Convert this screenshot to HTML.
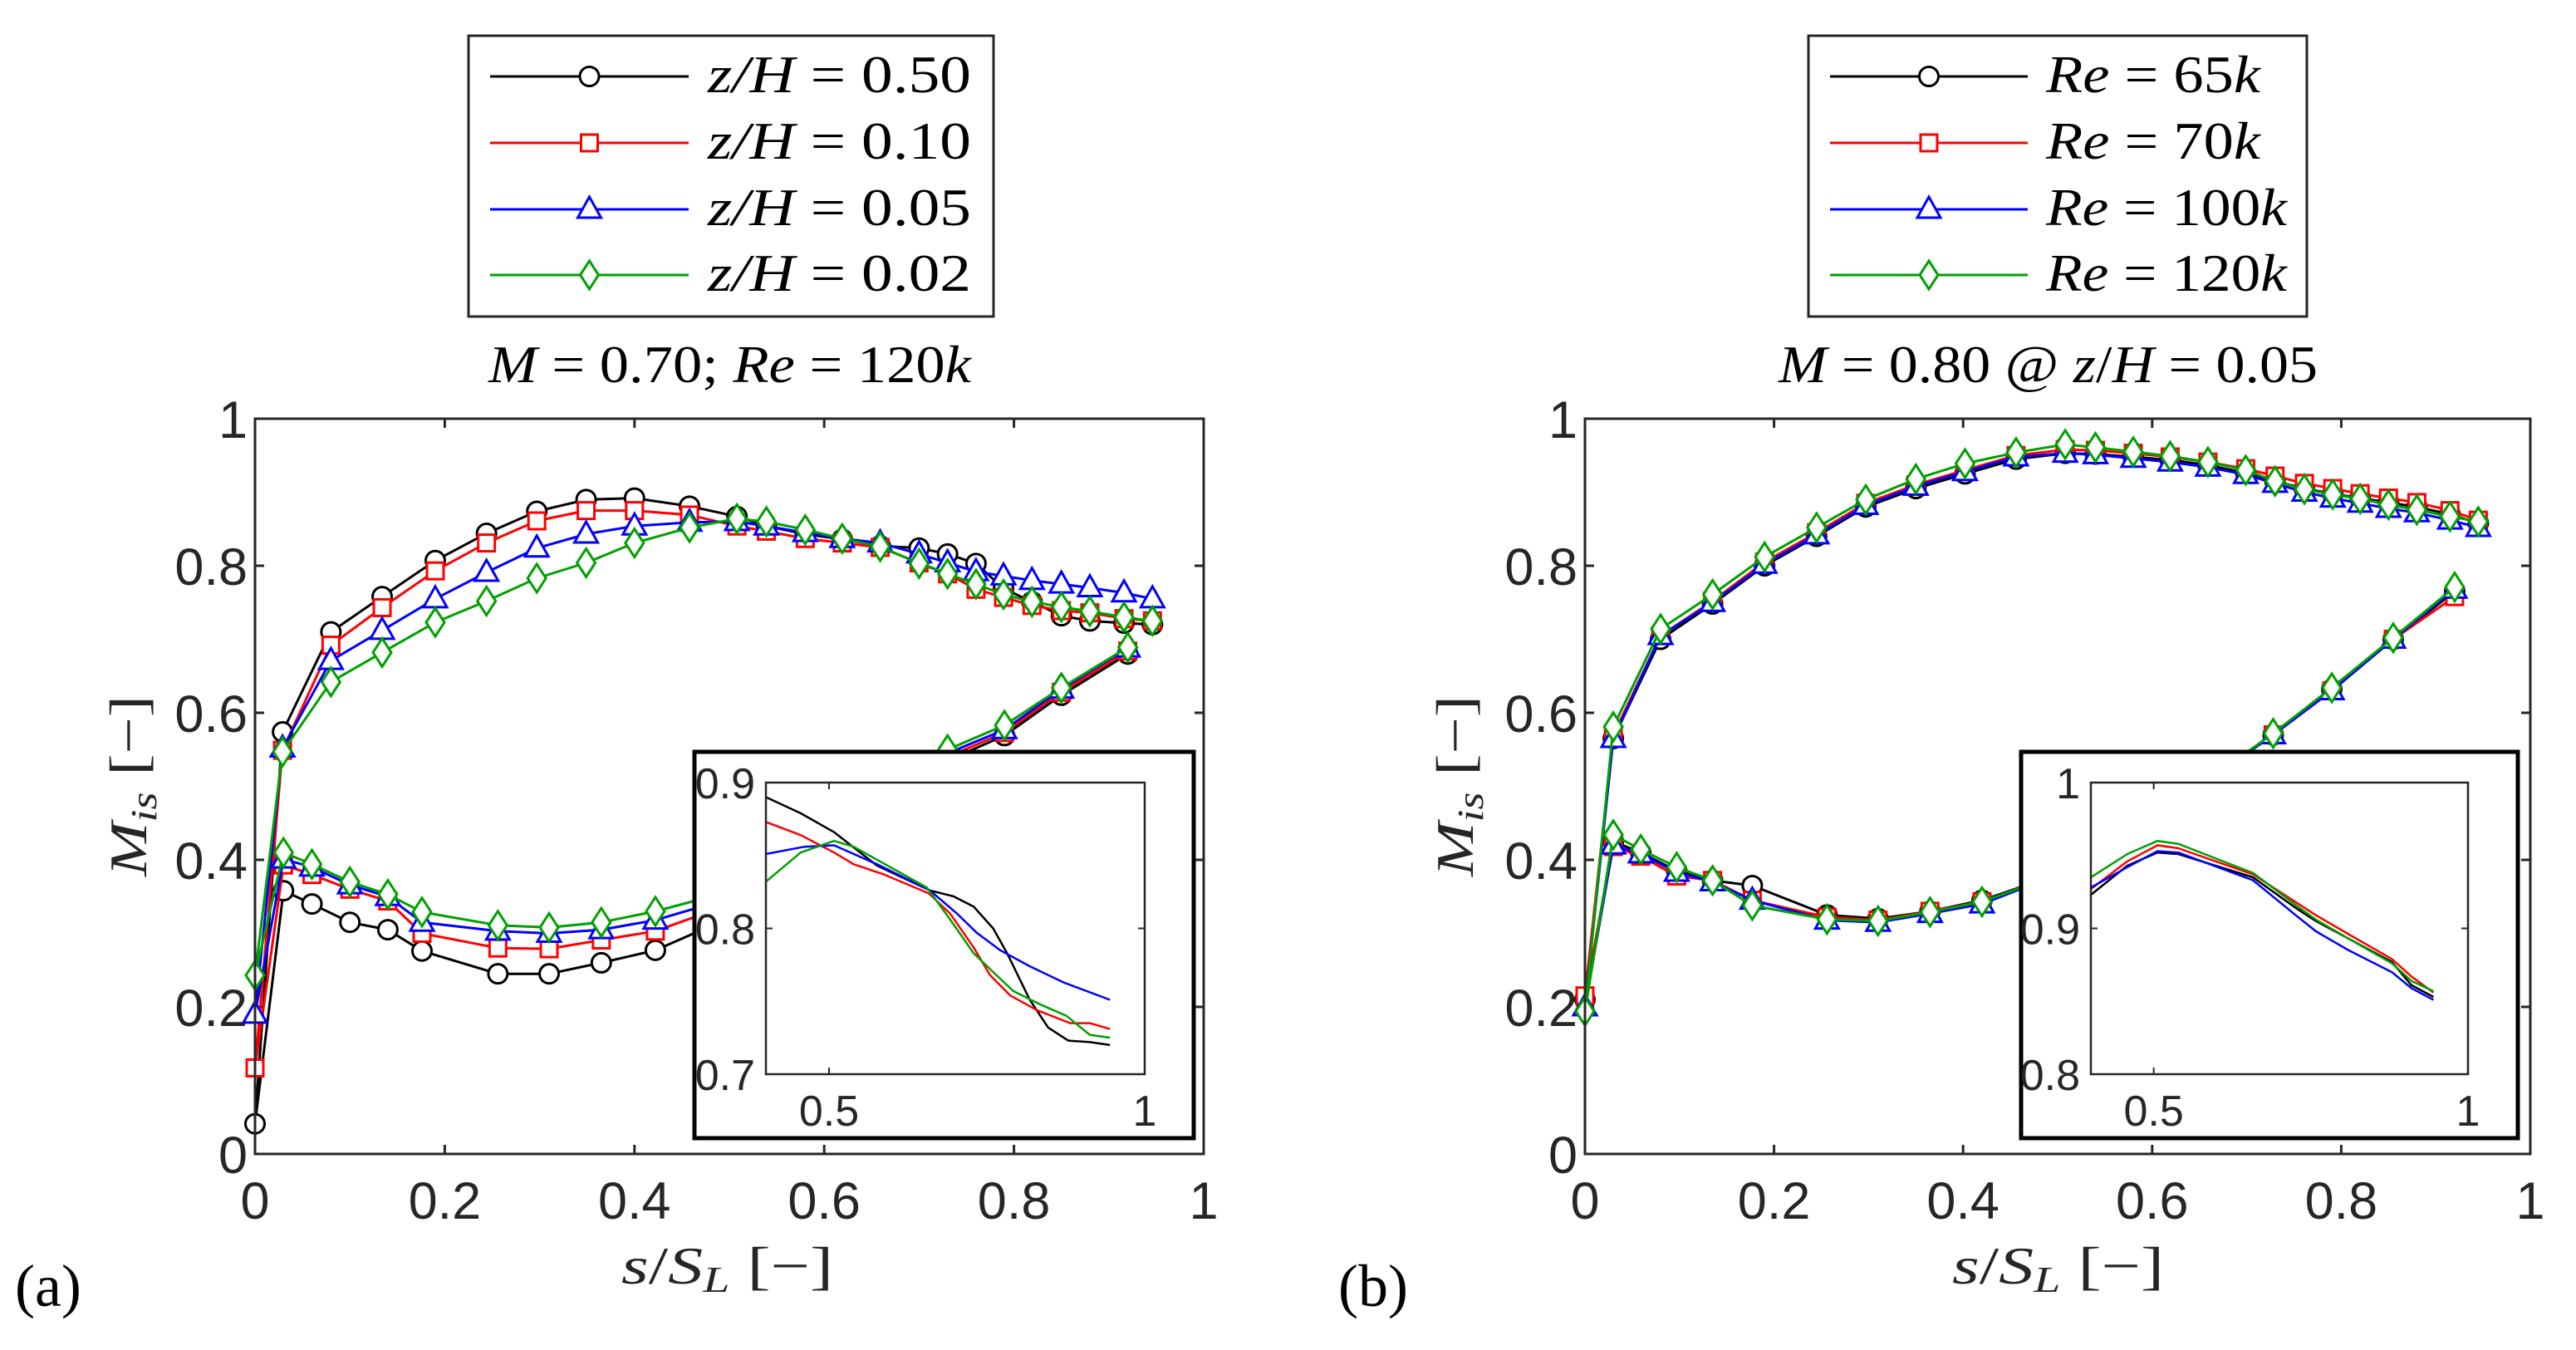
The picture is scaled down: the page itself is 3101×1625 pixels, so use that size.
<!DOCTYPE html>
<html><head><meta charset="utf-8"><style>
html,body{margin:0;padding:0;background:#fff;width:3101px;height:1625px;overflow:hidden}
svg{display:block}
.tk{font-family:"Liberation Sans",sans-serif;font-size:63px;fill:#262626}
.itk{font-family:"Liberation Sans",sans-serif;font-size:52px;fill:#262626}
.sr{font-family:"Liberation Serif",serif;fill:#000}
</style></head><body>
<svg id="fig" width="3101" height="1625" viewBox="0 0 3101 1625" xmlns="http://www.w3.org/2000/svg">
<rect x="0" y="0" width="3101" height="1625" fill="#fff"/>
</svg>
<script>
// ---------- Panel (a) data ----------
const aSSx = [0,0.029,0.08,0.134,0.19,0.244,0.297,0.349,0.40,0.458,0.508,0.539,0.58,0.619,0.659,0.70,0.73,0.76,0.789,0.819,0.85,0.88,0.916,0.946];
const aSS_050 = [0.041,0.574,0.71,0.758,0.807,0.844,0.874,0.89,0.892,0.881,0.867,0.854,0.843,0.836,0.827,0.824,0.816,0.803,0.769,0.751,0.732,0.725,0.722,0.72];
const aSS_010 = [0.117,0.549,0.692,0.743,0.793,0.831,0.861,0.875,0.875,0.869,0.854,0.847,0.837,0.831,0.825,0.804,0.789,0.768,0.757,0.746,0.739,0.736,0.728,0.725];
const aSS_005 = [0.19,0.552,0.671,0.712,0.755,0.791,0.824,0.843,0.854,0.859,0.86,0.854,0.845,0.837,0.831,0.816,0.804,0.792,0.786,0.78,0.775,0.77,0.763,0.755];
const aSS_002 = [0.243,0.547,0.642,0.682,0.723,0.752,0.783,0.804,0.831,0.852,0.864,0.86,0.849,0.837,0.826,0.803,0.789,0.775,0.761,0.751,0.744,0.738,0.73,0.725];
const aPSx = [0,0.03,0.06,0.10,0.14,0.176,0.256,0.31,0.365,0.422,0.48,0.55,0.62,0.68,0.73,0.79,0.85,0.92];
const aPS_050 = [0.041,0.358,0.34,0.315,0.305,0.276,0.245,0.245,0.26,0.277,0.31,0.36,0.42,0.48,0.535,0.569,0.624,0.68];
const aPS_010 = [0.117,0.393,0.38,0.36,0.344,0.30,0.28,0.279,0.291,0.303,0.33,0.38,0.43,0.49,0.54,0.573,0.628,0.684];
const aPS_005 = [0.19,0.401,0.39,0.366,0.35,0.315,0.303,0.30,0.305,0.318,0.34,0.39,0.44,0.495,0.545,0.577,0.632,0.688];
const aPS_002 = [0.243,0.41,0.394,0.37,0.353,0.329,0.311,0.308,0.315,0.33,0.35,0.40,0.45,0.50,0.55,0.583,0.634,0.689];
// inset (a)
const aIn_050_x = [0.4,0.455,0.508,0.576,0.66,0.697,0.729,0.76,0.782,0.818,0.847,0.879,0.913,0.945];
const aIn_050_y = [0.890,0.879,0.866,0.843,0.826,0.822,0.815,0.800,0.783,0.751,0.732,0.723,0.722,0.720];
const aIn_010_x = [0.4,0.455,0.508,0.539,0.587,0.658,0.692,0.729,0.755,0.787,0.829,0.882,0.913,0.945];
const aIn_010_y = [0.873,0.864,0.852,0.844,0.837,0.824,0.81,0.787,0.768,0.754,0.744,0.735,0.735,0.731];
const aIn_005_x = [0.4,0.461,0.508,0.576,0.66,0.703,0.734,0.771,0.818,0.871,0.945];
const aIn_005_y = [0.851,0.856,0.857,0.844,0.826,0.81,0.797,0.785,0.774,0.763,0.751];
const aIn_002_x = [0.4,0.455,0.508,0.539,0.655,0.692,0.729,0.76,0.792,0.834,0.876,0.913,0.945];
const aIn_002_y = [0.832,0.852,0.86,0.856,0.828,0.806,0.783,0.77,0.757,0.748,0.74,0.727,0.725];
// ---------- Panel (b) data ----------
const bSSx = [0,0.03,0.08,0.135,0.19,0.245,0.297,0.35,0.402,0.456,0.508,0.54,0.58,0.619,0.659,0.699,0.73,0.761,0.791,0.82,0.85,0.88,0.915,0.945];
const bSS_65 = [0.21,0.565,0.70,0.748,0.80,0.84,0.88,0.905,0.925,0.945,0.953,0.952,0.948,0.944,0.937,0.926,0.915,0.905,0.898,0.892,0.886,0.88,0.87,0.858];
const bSS_70 = [0.215,0.57,0.705,0.752,0.805,0.845,0.885,0.91,0.93,0.95,0.958,0.957,0.953,0.948,0.941,0.932,0.922,0.912,0.905,0.898,0.892,0.886,0.875,0.862];
const bSS_100 = [0.2,0.565,0.705,0.75,0.802,0.842,0.882,0.908,0.928,0.948,0.953,0.951,0.946,0.941,0.934,0.924,0.912,0.9,0.892,0.885,0.878,0.872,0.862,0.852];
const bSS_120 = [0.194,0.581,0.714,0.761,0.812,0.852,0.89,0.918,0.939,0.954,0.965,0.961,0.955,0.949,0.941,0.93,0.915,0.904,0.897,0.891,0.883,0.876,0.867,0.86];
const bPSx = [0,0.03,0.059,0.097,0.135,0.177,0.256,0.31,0.365,0.42,0.5,0.58,0.65,0.728,0.79,0.855,0.92];
const bPS_65 = [0.21,0.425,0.41,0.385,0.372,0.365,0.325,0.32,0.33,0.345,0.38,0.43,0.5,0.57,0.632,0.70,0.765];
const bPS_70 = [0.215,0.418,0.405,0.378,0.372,0.345,0.322,0.318,0.33,0.343,0.38,0.43,0.5,0.57,0.63,0.70,0.758];
const bPS_100 = [0.2,0.42,0.408,0.383,0.37,0.345,0.318,0.315,0.327,0.34,0.38,0.43,0.5,0.57,0.63,0.70,0.768];
const bPS_120 = [0.194,0.434,0.414,0.39,0.372,0.338,0.319,0.317,0.329,0.343,0.38,0.43,0.5,0.572,0.634,0.702,0.771];
// inset (b)
const bInx = [0.4,0.458,0.506,0.539,0.658,0.726,0.758,0.81,0.879,0.91,0.945];
const bIn_65 = [0.923,0.943,0.952,0.951,0.935,0.914,0.905,0.893,0.877,0.861,0.853];
const bIn_70 = [0.927,0.946,0.957,0.955,0.937,0.918,0.909,0.896,0.879,0.867,0.856];
const bIn_100 = [0.928,0.942,0.953,0.952,0.933,0.909,0.898,0.885,0.870,0.859,0.851];
const bIn_120 = [0.935,0.951,0.960,0.958,0.938,0.916,0.906,0.893,0.876,0.864,0.857];
// ticks and labels
const mainTicks = [0,0.2,0.4,0.6,0.8,1];
const mainTickLabels = ["0","0.2","0.4","0.6","0.8","1"];
const insetXTicks = [0.5,1];
const insetXLabels = ["0.5","1"];
const aInsetYTicks = [0.7,0.8,0.9];
const aInsetYLabels = ["0.7","0.8","0.9"];
const bInsetYTicks = [0.8,0.9,1];
const bInsetYLabels = ["0.8","0.9","1"];
const aLegend = ["0.50","0.10","0.05","0.02"];
const bLegend = ["65","70","100","120"];

const NS = "http://www.w3.org/2000/svg";
const svg = document.getElementById('fig');
const COLORS = ["#000000","#ff0000","#0000ff","#00a000"];
const MARKERS = ["circle","square","triangle","diamond"];
function el(tag, attrs, parent){
  const e = document.createElementNS(NS, tag);
  for (const k in attrs) e.setAttribute(k, attrs[k]);
  (parent||svg).appendChild(e);
  return e;
}
function marker(type, cx, cy, color, g){
  let m;
  if (type==="circle") m = el('circle',{cx:cx,cy:cy,r:11.5,fill:'#fff',stroke:color,'stroke-width':3},g);
  else if (type==="square") m = el('rect',{x:cx-10,y:cy-10,width:20,height:20,fill:'#fff',stroke:color,'stroke-width':3},g);
  else if (type==="triangle") m = el('polygon',{points:`${cx},${cy-15} ${cx+14},${cy+10} ${cx-14},${cy+10}`,fill:'#fff',stroke:color,'stroke-width':3},g);
  else m = el('polygon',{points:`${cx},${cy-17} ${cx+11},${cy} ${cx},${cy+17} ${cx-11},${cy}`,fill:'#fff',stroke:color,'stroke-width':3},g);
  return m;
}
function makeAxis(x0,x1,y0,y1,dx0,dx1,dy0,dy1){
  return {X:v=>x0+(v-dx0)/(dx1-dx0)*(x1-x0), Y:v=>y0-(v-dy0)/(dy1-dy0)*(y0-y1)};
}
function polyline(xs, ys, ax, color, g, w){
  const pts = xs.map((x,i)=>ax.X(x).toFixed(1)+','+ax.Y(ys[i]).toFixed(1)).join(' ');
  return el('polyline',{points:pts,fill:'none',stroke:color,'stroke-width':w||3,'stroke-linejoin':'round'},g);
}

function panel(opt){
  const g = el('g',{});
  
  
  const L=opt.L,R=opt.R,T=504,B=1389;
  const ax = makeAxis(L,R,B,T,0,1,0,1);
  // ticks
  const tg = el('g',{},g);
  
  
  mainTicks.forEach((t,i)=>{
    const x = ax.X(t), y = ax.Y(t);
    el('line',{x1:x,y1:B,x2:x,y2:B-11,stroke:'#262626','stroke-width':3},tg);
    el('line',{x1:x,y1:T,x2:x,y2:T+11,stroke:'#262626','stroke-width':3},tg);
    el('line',{x1:L,y1:y,x2:L+11,y2:y,stroke:'#262626','stroke-width':3},tg);
    el('line',{x1:R,y1:y,x2:R-11,y2:y,stroke:'#262626','stroke-width':3},tg);
    const xl = el('text',{x:x,y:1467,'text-anchor':'middle',class:'tk'},tg);
    xl.textContent = mainTickLabels[i];
    
    
    const yl = el('text',{x:L-9,y:y+23,'text-anchor':'end',class:'tk'},tg);
    yl.textContent = mainTickLabels[i];
    
    
  });
  // series
  opt.series.forEach((s,i)=>{
    const sg = el('g',{},g);
    
    
    polyline(opt.ssx, s.ss, ax, COLORS[i], sg);
    polyline(opt.psx, s.ps, ax, COLORS[i], sg);
    opt.ssx.forEach((x,j)=>{ const m=marker(MARKERS[i], ax.X(x), ax.Y(s.ss[j]), COLORS[i], sg);
      
       });
    opt.psx.forEach((x,j)=>{ if(j===0) return; const m=marker(MARKERS[i], ax.X(x), ax.Y(s.ps[j]), COLORS[i], sg);
      
       });
  });
  // frame
  const fr = el('rect',{x:L,y:T,width:R-L,height:B-T,fill:'none',stroke:'#262626','stroke-width':3},g);
  
  
  // inset
  const ig = el('g',{},g);
  
  
  const o = opt.inset;
  el('rect',{x:o.oL,y:905,width:o.oR-o.oL,height:1370-905,fill:'#fff',stroke:'#000','stroke-width':5},ig);
  const iax = makeAxis(o.L,o.R,1293,942,0.4,1,o.ymin,o.ymax);
  o.yt.forEach((t,i)=>{
    const y=iax.Y(t);
    el('line',{x1:o.L,y1:y,x2:o.L+8,y2:y,stroke:'#262626','stroke-width':2},ig);
    el('line',{x1:o.R,y1:y,x2:o.R-8,y2:y,stroke:'#262626','stroke-width':2},ig);
    const tl = el('text',{x:o.L-13,y:y+19,'text-anchor':'end',class:'itk'},ig);
    tl.textContent = o.yl[i];
    
    
  });
  insetXTicks.forEach((t,i)=>{
    const x=iax.X(t);
    el('line',{x1:x,y1:1293,x2:x,y2:1285,stroke:'#262626','stroke-width':2},ig);
    el('line',{x1:x,y1:942,x2:x,y2:950,stroke:'#262626','stroke-width':2},ig);
    const tl = el('text',{x:x,y:1355,'text-anchor':'middle',class:'itk'},ig);
    tl.textContent = insetXLabels[i];
    
    
  });
  o.lines.forEach((ln,i)=>{
    const p = polyline(ln.x, ln.y, iax, COLORS[i], ig, 2.5);
    
    
  });
  el('rect',{x:o.L,y:942,width:o.R-o.L,height:1293-942,fill:'none',stroke:'#262626','stroke-width':2.5},ig);
  // legend
  const lg = el('g',{},g);
  
  
  const lb = opt.leg;
  el('rect',{x:lb.L,y:43,width:lb.R-lb.L,height:338,fill:'#fff',stroke:'#262626','stroke-width':3},lg);
  const ys=[92,172,252,331];
  opt.series.forEach((s,i)=>{
    const eg = el('g',{},lg);
    
    
    el('line',{x1:lb.l1,y1:ys[i],x2:lb.l2,y2:ys[i],stroke:COLORS[i],'stroke-width':3},eg);
    marker(MARKERS[i], (lb.l1+lb.l2)/2, ys[i], COLORS[i], eg);
    const t = el('text',{x:lb.tx,y:ys[i]+19,class:'sr','font-size':63,textLength:lb.tw[i],lengthAdjust:'spacingAndGlyphs'},eg);
    const p1 = el('tspan',{'font-style':'italic'},t); p1.textContent = opt.legPre;
    const p2 = el('tspan',{},t); p2.textContent = ' = '+opt.legVals[i];
    if (opt.legSuf){ const p3 = el('tspan',{'font-style':'italic'},t); p3.textContent = opt.legSuf; }
  });
  return g;
}

panel({name:'panel-a', L:307, R:1449, ssx:aSSx, psx:aPSx,
  series:[{key:'zH-050',ss:aSS_050,ps:aPS_050},{key:'zH-010',ss:aSS_010,ps:aPS_010},{key:'zH-005',ss:aSS_005,ps:aPS_005},{key:'zH-002',ss:aSS_002,ps:aPS_002}],
  inset:{oL:836,oR:1437,L:922,R:1378,ymin:0.7,ymax:0.9,yt:aInsetYTicks,yl:aInsetYLabels,
    lines:[{x:aIn_050_x,y:aIn_050_y},{x:aIn_010_x,y:aIn_010_y},{x:aIn_005_x,y:aIn_005_y},{x:aIn_002_x,y:aIn_002_y}]},
  leg:{L:564,R:1196,l1:590,l2:829,tx:852,tw:[317,317,317,317]},
  legPre:'z/H', legVals:aLegend});
panel({name:'panel-b', L:1908, R:3046, ssx:bSSx, psx:bPSx,
  series:[{key:'Re-65k',ss:bSS_65,ps:bPS_65},{key:'Re-70k',ss:bSS_70,ps:bPS_70},{key:'Re-100k',ss:bSS_100,ps:bPS_100},{key:'Re-120k',ss:bSS_120,ps:bPS_120}],
  inset:{oL:2433,oR:3031,L:2517,R:2971,ymin:0.8,ymax:1,yt:bInsetYTicks,yl:bInsetYLabels,
    lines:[{x:bInx,y:bIn_65},{x:bInx,y:bIn_70},{x:bInx,y:bIn_100},{x:bInx,y:bIn_120}]},
  leg:{L:2177,R:2777,l1:2203,l2:2441,tx:2463,tw:[258,258,290,290]},
  legPre:'Re', legVals:bLegend, legSuf:'k'});
</script>
<svg style="position:absolute;left:0;top:0" width="3101" height="1625" viewBox="0 0 3101 1625" xmlns="http://www.w3.org/2000/svg">
  <text x="588" y="460" font-family="Liberation Serif, serif" font-size="64" textLength="581" lengthAdjust="spacingAndGlyphs"><tspan font-style="italic">M</tspan> = 0.70; <tspan font-style="italic">Re</tspan> = 120<tspan font-style="italic">k</tspan></text>
  <text x="2141" y="460" font-family="Liberation Serif, serif" font-size="64" textLength="649" lengthAdjust="spacingAndGlyphs"><tspan font-style="italic">M</tspan> = 0.80 @ <tspan font-style="italic">z</tspan>/<tspan font-style="italic">H</tspan> = 0.05</text>
  <text transform="translate(176,1055) rotate(-90)" font-family="Liberation Serif, serif" font-size="64" fill="#262626" textLength="218" lengthAdjust="spacingAndGlyphs"><tspan font-style="italic">M</tspan><tspan font-style="italic" font-size="44" dy="12">is</tspan><tspan dy="-12"> [−]</tspan></text>
  <text transform="translate(1773,1055) rotate(-90)" font-family="Liberation Serif, serif" font-size="64" fill="#262626" textLength="218" lengthAdjust="spacingAndGlyphs"><tspan font-style="italic">M</tspan><tspan font-style="italic" font-size="44" dy="12">is</tspan><tspan dy="-12"> [−]</tspan></text>
  <text x="748" y="1545" font-family="Liberation Serif, serif" font-size="64" fill="#262626" textLength="255" lengthAdjust="spacingAndGlyphs"><tspan font-style="italic">s</tspan>/<tspan font-style="italic">S</tspan><tspan font-style="italic" font-size="44" dy="10">L</tspan><tspan dy="-10"> [−]</tspan></text>
  <text x="2350" y="1545" font-family="Liberation Serif, serif" font-size="64" fill="#262626" textLength="255" lengthAdjust="spacingAndGlyphs"><tspan font-style="italic">s</tspan>/<tspan font-style="italic">S</tspan><tspan font-style="italic" font-size="44" dy="10">L</tspan><tspan dy="-10"> [−]</tspan></text>
  <text x="18" y="1572" font-family="Liberation Serif, serif" font-size="72">(a)</text>
  <text x="1611" y="1572" font-family="Liberation Serif, serif" font-size="72">(b)</text>
</svg>
</body></html>
